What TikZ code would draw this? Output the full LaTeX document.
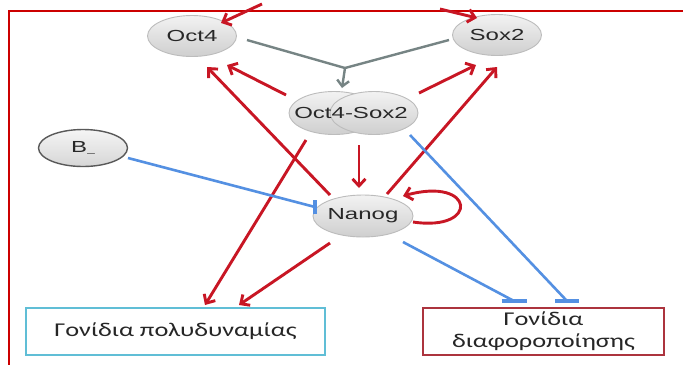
\documentclass[tikz,border=0pt]{standalone}
\usepackage{fontspec}
\usetikzlibrary{arrows.meta,shapes.geometric,calc}
\newfontfamily\nodefont[FakeStretch=1.5]{Liberation Sans}
\newfontfamily\boxfont[FakeStretch=1.35]{Carlito}
\definecolor{cframe}{RGB}{204,0,0}
\definecolor{cred}{RGB}{200,22,36}
\definecolor{cblue}{RGB}{84,144,226}
\definecolor{cgrey}{RGB}{118,132,132}
\definecolor{cgeneborder}{RGB}{188,188,188}
\definecolor{ctext}{RGB}{40,40,40}
\definecolor{ccyan}{RGB}{96,190,214}
\definecolor{cdarkred}{RGB}{172,52,62}
\tikzset{
  gene/.style={ellipse, draw=cgeneborder, line width=0.9pt, inner sep=0pt,
    top color=white!95!black, bottom color=white!81!black,
    minimum width=89pt, minimum height=41pt},
  genetext/.style={font=\nodefont\fontsize{16}{16}\selectfont, text=ctext},
  redarrow/.style={draw=cred, line width=2.9pt, -{Straight Barb[length=7pt,width=13pt]}},
  greyline/.style={draw=cgrey, line width=2.4pt},
  greyarrow/.style={draw=cgrey, line width=2.4pt, -{Straight Barb[length=6pt,width=12pt]}},
  blueline/.style={draw=cblue, line width=2.6pt},
  bluebar/.style={draw=cblue, line width=3.8pt},
  genebox/.style={draw, line width=1.3pt, inner sep=0pt, fill=white,
    font=\boxfont\fontsize{19.5}{22}\selectfont, text=black!85, align=center}
}
\begin{document}
\begin{tikzpicture}[x=1pt,y=-1pt]
\useasboundingbox[fill=white] (0,0) rectangle (683,365);
% frame
\draw[cframe, line width=2.7pt] (683,11) -- (9,11) -- (9,365);

% nodes
\node[gene, genetext] (oct4) at (192,36) {Oct4};
\node[gene, genetext] (sox2) at (497,35) {Sox2};
\node[gene, minimum width=90pt, minimum height=43pt] (osL) at (334,113) {};
\node[gene, minimum width=88pt, minimum height=43pt] (osR) at (374,113) {};
\node[genetext, inner sep=0pt] (os) at (351,113) {Oct4-Sox2};
\node[gene, genetext, draw=black!65, line width=1.4pt, top color=white!96!black, bottom color=white!84!black, minimum width=89pt, minimum height=37pt] (B) at (83,148) {B{\fontsize{9}{9}\selectfont\_}};
\node[gene, genetext, minimum width=90pt, minimum height=42pt] (nanog) at (363,216) {Nanog};
\node[genebox, draw=ccyan, minimum width=299pt, minimum height=47pt] (pluri) at (175.5,331.5) {Γονίδια πολυδυναμίας};
\node[genebox, draw=cdarkred, minimum width=241pt, minimum height=47pt] (diff) at (543.5,331.5) {Γονίδια\\διαφοροποίησης};

% free ends of the arrows cut by the frame
\coordinate (topL) at (262,4);
\coordinate (topR) at (440,9);
\coordinate (j) at (345,68);

% grey complex formation
\draw[greyline] ([shift={(55,4)}]oct4.center) -- (j);
\draw[greyline] ([shift={(-48,5)}]sox2.center) -- (j);
\draw[greyarrow] (j) -- ([shift={(-9,-25)}]os.center);

% red activation arrows
\draw[redarrow] (topL) -- ([shift={(29,-13)}]oct4.center);
\draw[redarrow] (topR) -- ([shift={(-20,-17)}]sox2.center);
\draw[redarrow] ([shift={(-48,-18)}]osL.center) -- ([shift={(35,29)}]oct4.center);
\draw[redarrow] ([shift={(-33,-21)}]nanog.center) -- ([shift={(15,31)}]oct4.center);
\draw[redarrow] ([shift={(45,-20)}]osR.center) -- ([shift={(-21,30)}]sox2.center);
\draw[redarrow] ([shift={(24,-22)}]nanog.center) -- ([shift={(0,32)}]sox2.center);
\draw[redarrow] ([shift={(8,32)}]os.center) -- ([shift={(-4,-28)}]nanog.center);
\draw[redarrow] ([shift={(-28,27)}]osL.center) -- ([shift={(29.5,-26.5)}]pluri.center);
\draw[redarrow] ([shift={(-33,27)}]nanog.center) -- ([shift={(63.5,-26.5)}]pluri.center);
\draw[redarrow] ([shift={(50,6)}]nanog.center) .. controls ([shift={(117,16)}]nanog.center) and ([shift={(112,-40)}]nanog.center) .. ([shift={(40,-20)}]nanog.center);

% blue repression lines
\coordinate (barB) at ([shift={(-48,-9)}]nanog.center);
\coordinate (barD1) at ([shift={(-29.5,-30.5)}]diff.center);
\coordinate (barD2) at ([shift={(23.5,-30.5)}]diff.center);
\draw[blueline] ([shift={(45,10)}]B.center) -- (barB);
\draw[bluebar] ($(barB)+(0,-7)$) -- ($(barB)+(0,7)$);
\draw[blueline] ([shift={(40,26)}]nanog.center) -- (barD1);
\draw[bluebar] ($(barD1)+(-12.5,0)$) -- ($(barD1)+(12.5,0)$);
\draw[blueline] ([shift={(36,22)}]osR.center) -- (barD2);
\draw[bluebar] ($(barD2)+(-12,0)$) -- ($(barD2)+(12,0)$);
\end{tikzpicture}
\end{document}
